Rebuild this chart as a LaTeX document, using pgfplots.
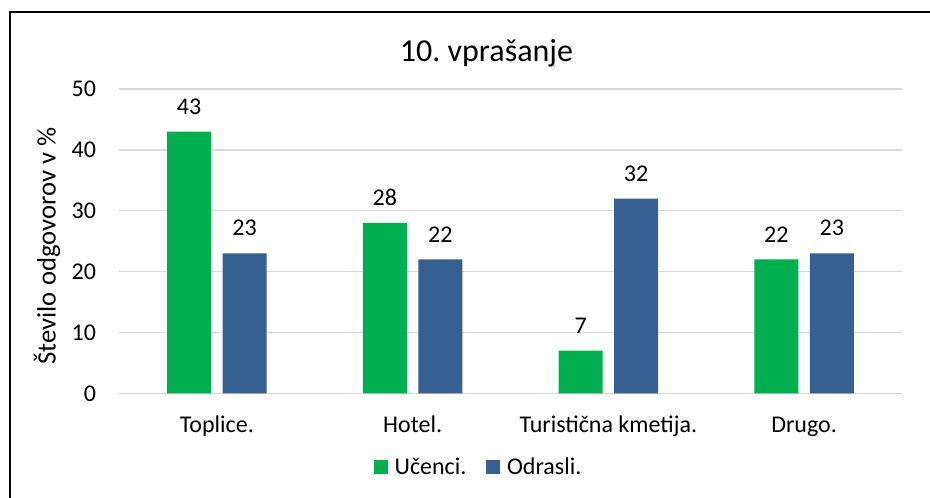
\documentclass[border=0pt]{standalone}
\usepackage{fontspec}
\setmainfont{Carlito}
\usepackage{pgfplots}
\pgfplotsset{compat=1.18}
\definecolor{cgreen}{HTML}{00B050}
\definecolor{cblue}{HTML}{376092}
\definecolor{cgrid}{HTML}{D9D9D9}
\begin{document}
\frenchspacing
\begin{tikzpicture}
\useasboundingbox (-89.25pt,-78.5pt) rectangle (608.25pt,295pt);
\draw[line width=1.1pt, black] (-81.75pt,-85pt) -- (-81.75pt,286pt) -- (615pt,286pt);
\begin{axis}[
  at={(0pt,0pt)}, anchor=south west,
  scale only axis, width=587.25pt, height=228.2pt,
  xmin=-0.5, xmax=3.5, ymin=0, ymax=50,
  ytick={0,10,...,50},
  xtick={0,1,2,3},
  xticklabels={Toplice., Hotel., Turistična kmetija., Drugo.},
  ymajorgrids, grid style={cgrid, line width=0.9pt},
  axis line style={draw=none},
  major tick length=0pt,
  clip=false,
  tick label style={font=\fontsize{18}{21}\selectfont, black},
  /pgf/number format/assume math mode=true,
  yticklabel style={anchor=east, inner xsep=0pt, xshift=-17pt},
  xticklabel style={anchor=base, yshift=-29.5pt},
  ybar, bar width=33pt,
  nodes near coords,
  every node near coord/.append style={font=\fontsize{18}{21}\selectfont, anchor=south, inner ysep=0pt, yshift=12.75pt, black},
  legend columns=2,
  legend style={at={(0.4598,-0.242)}, anchor=center, draw=none, fill=none,
    font=\fontsize{18}{21}\selectfont, inner sep=0pt,
    /tikz/every odd column/.append style={column sep=3pt},
    /tikz/every even column/.append style={column sep=13pt}},
]
\addplot[fill=cgreen, draw=none, bar shift=-20.8pt,
  legend image code/.code={\fill[cgreen] (0pt,-5pt) rectangle (10.5pt,5.5pt);}]
  coordinates {(0,43) (1,28) (2,7) (3,22)};
\addlegendentry{Učenci.}
\addplot[fill=cblue, draw=none, bar shift=20.8pt,
  legend image code/.code={\fill[cblue] (0pt,-5pt) rectangle (10.5pt,5.5pt);}]
  coordinates {(0,23) (1,22) (2,32) (3,23)};
\addlegendentry{Odrasli.}
\end{axis}
\node[anchor=base, inner sep=0pt, font=\fontsize{24}{28}\selectfont] at (275.6pt,248.7pt) {10. vprašanje};
\node[rotate=90, anchor=center, inner sep=0pt, font=\fontsize{20}{24}\selectfont] at (-54pt,110.5pt) {Število odgovorov v \%};
\end{tikzpicture}
\end{document}
